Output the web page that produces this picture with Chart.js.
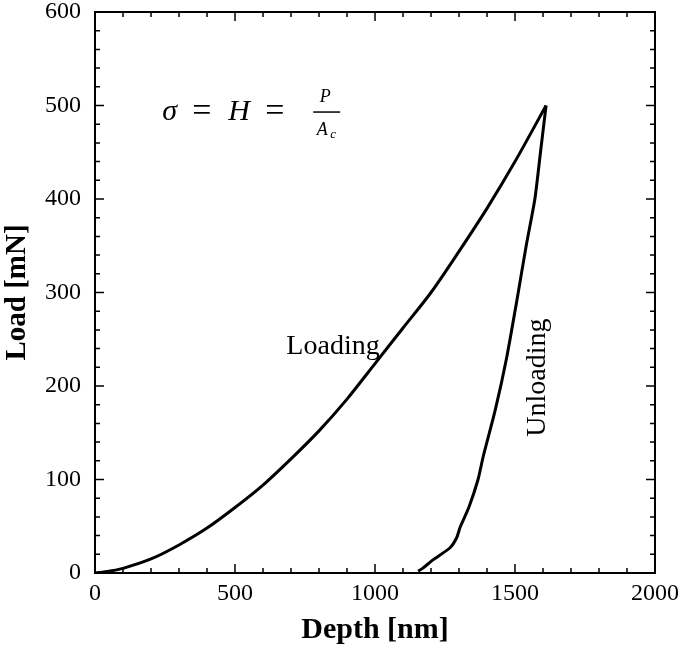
<!DOCTYPE html>
<html>
<head>
<meta charset="utf-8">
<script src="https://cdn.jsdelivr.net/npm/chart.js@4"></script>
<style>
  html, body { margin: 0; padding: 0; background: #fff; }
  #wrap { width: 685px; height: 648px; }
</style>
</head>
<body>
<div id="wrap"><canvas id="myChart" width="685" height="648"></canvas></div>
<script>
// loading branch (depth nm, load mN)
const loadDepth = [0, 50, 100, 200, 300, 400, 500, 600, 700, 800, 900, 1000, 1100, 1200, 1300, 1400, 1500, 1611];
const loadForce = [0, 2, 5, 15, 30, 48, 70, 94, 122, 152, 186, 224, 262, 300, 344, 390, 440, 500];
// unloading branch
const unloadDepth = [1611, 1591, 1571, 1540, 1507, 1470, 1430, 1386, 1368, 1335, 1304, 1292, 1268, 1207, 1170, 1154];
const unloadForce = [500, 450, 400, 350, 292, 230, 175, 124, 100, 70, 49, 38, 27, 14, 5, 2];

const xTicks = [0, 500, 1000, 1500, 2000];
const yTicks = [0, 100, 200, 300, 400, 500, 600];

const serif = '"Liberation Serif", "Times New Roman", serif';

function pts(xs, ys) {
    return xs.map((x, i) => ({ x: x, y: ys[i] }));
}

// inner ticks on all four sides + frame + text labels
const decor = {
    id: 'decor',
    afterDraw(chart) {
        const c = chart.ctx;
        const a = chart.chartArea;
        const sx = chart.scales.x, sy = chart.scales.y;
        c.save();
        c.strokeStyle = '#000';
        c.lineWidth = 2;
        c.strokeRect(a.left, a.top, a.right - a.left, a.bottom - a.top);
        c.lineWidth = 1.5;
        for (let v = 0; v <= 2000; v += 100) {
            const px = sx.getPixelForValue(v);
            const len = v % 500 === 0 ? 9 : 5;
            c.beginPath();
            c.moveTo(px, a.bottom); c.lineTo(px, a.bottom - len);
            c.moveTo(px, a.top); c.lineTo(px, a.top + len);
            c.stroke();
        }
        for (let v = 0; v <= 600; v += 20) {
            const py = sy.getPixelForValue(v);
            const len = v % 100 === 0 ? 9 : 5;
            c.beginPath();
            c.moveTo(a.left, py); c.lineTo(a.left + len, py);
            c.moveTo(a.right, py); c.lineTo(a.right - len, py);
            c.stroke();
        }

        c.fillStyle = '#000';
        // curve labels
        c.font = '28px ' + serif;
        c.textAlign = 'center';
        c.textBaseline = 'middle';
        c.fillText('Loading', sx.getPixelForValue(850), sy.getPixelForValue(242));
        c.save();
        c.translate(sx.getPixelForValue(1580), sy.getPixelForValue(209));
        c.rotate(-Math.PI / 2);
        c.fillText('Unloading', 0, 0);
        c.restore();

        // formula
        const fx = sx.getPixelForValue(240), fy = sy.getPixelForValue(493);
        c.textAlign = 'left';
        c.textBaseline = 'middle';
        c.font = 'italic 30px ' + serif;
        c.fillText('σ', fx, fy);
        c.font = '34px ' + serif;
        c.fillText('=', fx + 30, fy);
        c.font = 'italic 30px ' + serif;
        c.fillText('H', fx + 66, fy);
        c.font = '34px ' + serif;
        c.fillText('=', fx + 103, fy);
        c.lineWidth = 1.5;
        c.beginPath();
        c.moveTo(fx + 151, fy); c.lineTo(fx + 178, fy);
        c.stroke();
        c.textAlign = 'center';
        c.font = 'italic 18px ' + serif;
        c.fillText('P', fx + 163, fy - 15);
        c.fillText('A', fx + 160, fy + 18);
        c.font = 'italic 13px ' + serif;
        c.fillText('c', fx + 171, fy + 23);
        c.restore();
    }
};

const ctx = document.getElementById('myChart').getContext('2d');
const myChart = new Chart(ctx, {
    type: 'scatter',
    data: {
        datasets: [{
            label: 'Loading',
            data: pts(loadDepth, loadForce),
            showLine: true,
            borderColor: '#000',
            borderWidth: 3,
            pointRadius: 0,
            tension: 0.3
        }, {
            label: 'Unloading',
            data: pts(unloadDepth, unloadForce),
            showLine: true,
            borderColor: '#000',
            borderWidth: 3,
            pointRadius: 0,
            tension: 0.2
        }]
    },
    options: {
        responsive: false,
        animation: false,
        layout: { padding: { left: 0, right: 30, top: 12, bottom: 0 } },
        plugins: {
            legend: { display: false },
            tooltip: { enabled: false }
        },
        scales: {
            x: {
                type: 'linear',
                min: 0, max: 2000,
                afterFit(s) { s.height = 75; s.paddingLeft = 0; s.paddingRight = 0; },
                afterBuildTicks(s) { s.ticks = xTicks.map(v => ({ value: v })); },
                grid: { display: false, drawTicks: false },
                border: { display: false },
                ticks: {
                    color: '#000', padding: 6,
                    font: { family: serif, size: 24 },
                    callback: v => String(v)
                },
                title: {
                    display: true,
                    text: 'Depth [nm]',
                    color: '#000',
                    padding: { top: 0, bottom: 0 },
                    font: { family: serif, size: 30, weight: 'bold' }
                }
            },
            y: {
                type: 'linear',
                min: 0, max: 600,
                afterFit(s) { s.width = 95; s.paddingTop = 0; s.paddingBottom = 0; },
                afterBuildTicks(s) { s.ticks = yTicks.map(v => ({ value: v })); },
                grid: { display: false, drawTicks: false },
                border: { display: false },
                ticks: {
                    color: '#000', padding: 14,
                    font: { family: serif, size: 24 },
                    callback: v => String(v)
                },
                title: {
                    display: true,
                    text: 'Load [mN]',
                    color: '#000',
                    padding: { top: 0, bottom: 0 },
                    font: { family: serif, size: 29, weight: 'bold' }
                }
            }
        }
    },
    plugins: [decor]
});
</script>
</body>
</html>
